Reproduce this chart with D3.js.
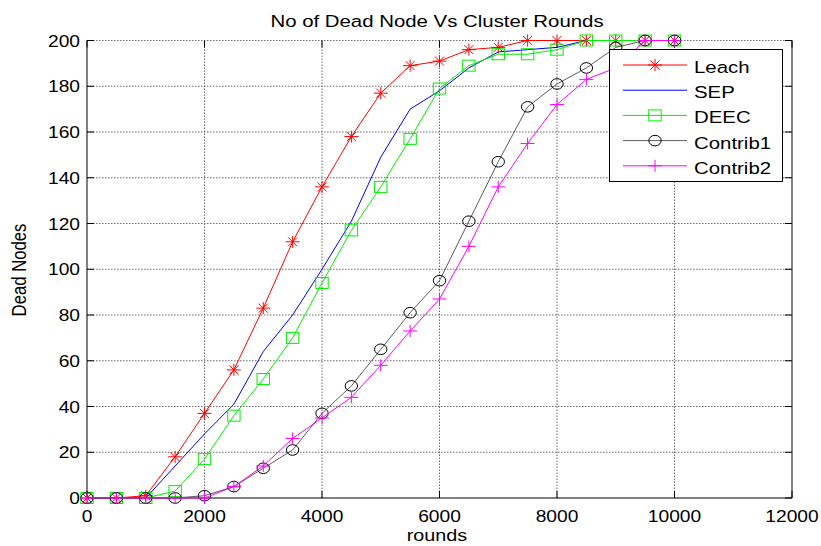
<!DOCTYPE html>
<html>
<head>
<meta charset="utf-8">
<script src="https://cdn.jsdelivr.net/npm/d3@7"></script>
<style>
  html,body{margin:0;padding:0;background:#fff;}
  svg{display:block;font-family:"Liberation Sans",Arial,sans-serif;}
</style>
</head>
<body>
<div id="chart"></div>
<script>
// Dead nodes per round, 5 protocols (sampled every 500 rounds)
const rounds   = [0,500,1000,1500,2000,2500,3000,3500,4000,4500,5000,5500,6000,6500,7000,7500,8000,8500,9000,9500,10000];
const leach    = [0,0,1,18,37,56,83,112,136,158,177,189,191,196,197,200,200,200,200,200,200];
const sep      = [0,0,0,14,28,41,64,80,100,121,149,170,178,188,195,196,197,200,200,200,200];
const deec     = [0,0,0,3,17,36,52,70,94,117,136,157,179,189,194,194,196,200,200,200,200];
const contrib1 = [0,0,0,0,1,5,13,21,37,49,65,81,95,121,147,171,181,188,197,200,200];
const contrib2 = [0,0,0,0,0,5,14,26,35,44,58,73,87,110,136,155,172,183,188,200,200];
const xTicks = [0,2000,4000,6000,8000,10000,12000];
const yTicks = [0,20,40,60,80,100,120,140,160,180,200];

const W=821, H=546, m={l:87,r:29,t:40.5,b:48};
const SX=1.2; // picture is stretched horizontally

const x = d3.scaleLinear().domain([0,12000]).range([m.l, W-m.r]);
const y = d3.scaleLinear().domain([0,200]).range([H-m.b, m.t]);

const svg = d3.select("#chart").append("svg").attr("width",W).attr("height",H);

function stext(g, px, py, str, size, anchor, rot){
  return g.append("text")
    .attr("transform",`translate(${px},${py}) scale(${SX},1)` + (rot ? ` rotate(${rot})` : ""))
    .attr("text-anchor",anchor||"middle").attr("font-size",size).attr("fill","#000").text(str);
}

// grid
const grid = svg.append("g").attr("stroke","#6a6a6a").attr("stroke-width",1).attr("stroke-dasharray","1.5,1.5");
xTicks.slice(1,-1).forEach(t=> grid.append("line").attr("x1",x(t)).attr("x2",x(t)).attr("y1",y(0)).attr("y2",y(200)));
yTicks.slice(1).forEach(t=> grid.append("line").attr("x1",x(0)).attr("x2",x(12000)).attr("y1",y(t)).attr("y2",y(t)));

// axes frame (left, bottom, right solid)
const ax = svg.append("g").attr("stroke","#000").attr("stroke-width",1).attr("fill","none");
ax.append("path").attr("d",`M${x(0)},${y(200)}V${y(0)}H${x(12000)}V${y(200)}`);
xTicks.forEach(t=>{
  ax.append("line").attr("x1",x(t)).attr("x2",x(t)).attr("y1",y(0)).attr("y2",y(0)-7);
  ax.append("line").attr("x1",x(t)).attr("x2",x(t)).attr("y1",y(200)).attr("y2",y(200)+7);
});
yTicks.forEach(t=>{
  ax.append("line").attr("x1",x(0)).attr("x2",x(0)+7).attr("y1",y(t)).attr("y2",y(t));
  ax.append("line").attr("x1",x(12000)).attr("x2",x(12000)-7).attr("y1",y(t)).attr("y2",y(t));
});

const lab = svg.append("g");
xTicks.forEach(t=> stext(lab, x(t), y(0)+24, t, 16, "middle"));
yTicks.forEach(t=> stext(lab, x(0)-7, y(t)+6, t, 16, "end"));
stext(lab, 437, 27, "No of Dead Node Vs Cluster Rounds", 17, "middle");
stext(lab, 437, 541, "rounds", 16.5, "middle");
stext(lab, 26, 270, "Dead Nodes", 16.7, "middle", -90);

// markers
function marker(g, kind, color, cx, cy){
  const p = g.append("g").attr("transform",`translate(${cx},${cy})`).attr("fill","none").attr("stroke",color).attr("stroke-width",1);
  if(kind==="star") p.append("path").attr("d","M-7,0H7M0,-6V6M-4.5,-4.5L4.5,4.5M-4.5,4.5L4.5,-4.5");
  if(kind==="square") p.append("rect").attr("x",-6.2).attr("y",-5.5).attr("width",12.4).attr("height",11);
  if(kind==="circle") p.append("ellipse").attr("rx",6.2).attr("ry",5.3);
  if(kind==="plus") p.append("path").attr("d","M-7,0H7M0,-6V6");
}

const series = [
  {name:"Leach",    vals:leach,    color:"#ff0000", mk:"star",   w:1},
  {name:"SEP",      vals:sep,      color:"#0000ff", mk:null,     w:1},
  {name:"DEEC",     vals:deec,     color:"#00ee00", mk:"square", w:1},
  {name:"Contrib1", vals:contrib1, color:"#333333", mk:"circle", w:0.8},
  {name:"Contrib2", vals:contrib2, color:"#ff00ff", mk:"plus",   w:1}
];

const line = d3.line().x(d=>x(d[0])).y(d=>y(d[1]));
const plot = svg.append("g");
series.forEach(s=>{
  const pts = rounds.map((r,i)=>[r,s.vals[i]]);
  plot.append("path").attr("d",line(pts)).attr("fill","none").attr("stroke",s.color).attr("stroke-width",s.w);
  if(s.mk) pts.forEach(p=> marker(plot, s.mk, s.mk==="circle"?"#000":s.color, x(p[0]), y(p[1])));
});

// legend
const lg = svg.append("g");
lg.append("rect").attr("x",609.5).attr("y",49.5).attr("width",173).attr("height",132).attr("fill","#fff").attr("stroke","#000");
series.forEach((s,i)=>{
  const ly = 65 + i*25.2;
  lg.append("line").attr("x1",623).attr("x2",687).attr("y1",ly).attr("y2",ly).attr("stroke",s.color).attr("stroke-width",s.w);
  if(s.mk) marker(lg, s.mk, s.mk==="circle"?"#000":s.color, 655, ly);
  stext(lg, 694, ly+8, s.name, 17, "start");
});
</script>
</body>
</html>
